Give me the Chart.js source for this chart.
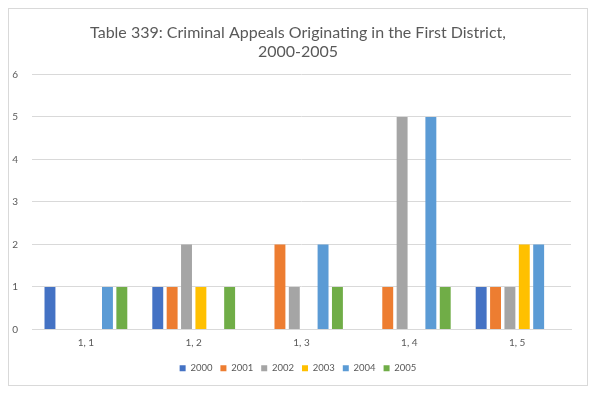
<!DOCTYPE html>
<html>
<head>
<meta charset="utf-8">
<script src="https://cdn.jsdelivr.net/npm/chart.js@4"></script>
<style>
  body { margin: 0; background: #fff; }
  #wrap {
    position: absolute; left: 8px; top: 8px;
    width: 580px; height: 378px;
    border: 1px solid #d9d9d9; box-sizing: border-box;
  }
</style>
</head>
<body>
<div id="wrap"><canvas id="chart"></canvas></div>
<script>
const categories = ['1, 1', '1, 2', '1, 3', '1, 4', '1, 5'];
const years = ['2000', '2001', '2002', '2003', '2004', '2005'];
const values2000 = [1, 1, 0, 0, 1];
const values2001 = [0, 1, 2, 1, 1];
const values2002 = [0, 2, 1, 5, 1];
const values2003 = [0, 1, 0, 0, 2];
const values2004 = [1, 0, 2, 5, 2];
const values2005 = [1, 1, 1, 1, 0];
const colors = ['#4472C4', '#ED7D31', '#A5A5A5', '#FFC000', '#5B9BD5', '#70AD47'];

const series = [values2000, values2001, values2002, values2003, values2004, values2005];
const tickColor = '#595959';

new Chart(document.getElementById('chart'), {
  type: 'bar',
  data: {
    labels: categories,
    datasets: series.map((data, i) => ({
      label: years[i],
      data: data,
      backgroundColor: colors[i],
      categoryPercentage: 0.8,
      barPercentage: 0.76
    }))
  },
  options: {
    responsive: true,
    maintainAspectRatio: false,
    animation: false,
    layout: { padding: { left: 0, right: 0, top: 10, bottom: 2 } },
    plugins: {
      title: {
        display: true,
        text: ['Table 339: Criminal Appeals Originating in the First District,', '2000-2005'],
        color: tickColor,
        font: { family: 'Lato', size: 16, weight: 'normal', lineHeight: 1.2 },
        padding: { top: 4, bottom: 13 }
      },
      legend: {
        position: 'bottom',
        labels: {
          color: tickColor,
          font: { family: 'Lato', size: 9.5 },
          boxWidth: 6, boxHeight: 6,
          padding: 8
        }
      },
      tooltip: { enabled: false }
    },
    scales: {
      x: {
        grid: { display: false, drawTicks: false },
        border: { color: '#d9d9d9' },
        ticks: { color: tickColor, font: { family: 'Lato', size: 10 }, padding: 7 },
        afterFit(scale) { scale.height = 26; }
      },
      y: {
        min: 0, max: 6,
        ticks: { stepSize: 1, color: tickColor, font: { family: 'Lato', size: 10 }, padding: 14 },
        grid: { color: '#d9d9d9', drawTicks: false },
        border: { display: false },
        afterFit(scale) { scale.width = 23; }
      },
      // empty axis on the right, only reserves the margin beside the plot
      yRight: {
        position: 'right',
        grid: { display: false, drawTicks: false },
        ticks: { display: false },
        border: { display: false },
        afterFit(scale) { scale.width = 16; }
      }
    }
  }
});
</script>
</body>
</html>
